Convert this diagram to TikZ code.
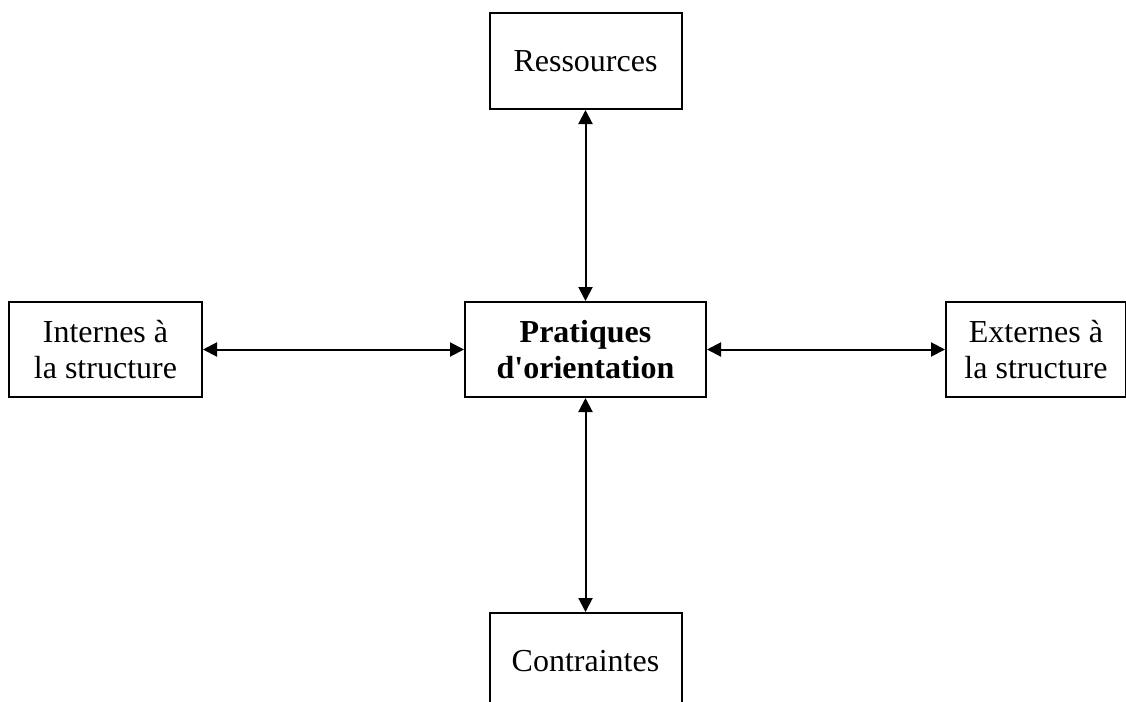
\documentclass[tikz,border=0pt]{standalone}
\usepackage{fontspec}
\setmainfont{Liberation Serif}
\usetikzlibrary{arrows.meta}

\begin{document}
\begin{tikzpicture}
        \tikzstyle{every node}=[draw, line width=1pt, inner sep=0pt, align=center,
            font=\fontsize{16pt}{18pt}\selectfont]
        \tikzstyle{lien}=[{Triangle[length=7pt,width=7pt]}-{Triangle[length=7pt,width=7pt]}, line width=1pt]

        \clip (0pt,0pt) rectangle (563pt,-351pt);

        \node   (res)   at (292.75pt,-30.5pt)   [minimum width=96pt, minimum height=48pt] {Ressources};
        \node   (ctr)   at (292.75pt,-174.75pt) [minimum width=120.5pt, minimum height=47.5pt] {\textbf{Pratiques}\\\textbf{d\textquotesingle orientation}};
        \node   (intl)  at (52.75pt,-174.75pt)  [minimum width=96.5pt, minimum height=47.5pt] {Internes à\\la structure};
        \node   (ext)   at (518pt,-174.75pt)    [minimum width=90pt, minimum height=47.5pt] {Externes à\\la structure};
        \node   (con)   at (292.75pt,-330.5pt)  [minimum width=96pt, minimum height=48pt] {Contraintes};

        \draw[lien] (ctr.north) -- (res.south);
        \draw[lien] (ctr.south) -- (con.north);
        \draw[lien] (intl.east) -- (ctr.west);
        \draw[lien] (ctr.east) -- (ext.west);

    \end{tikzpicture}
\end{document}
